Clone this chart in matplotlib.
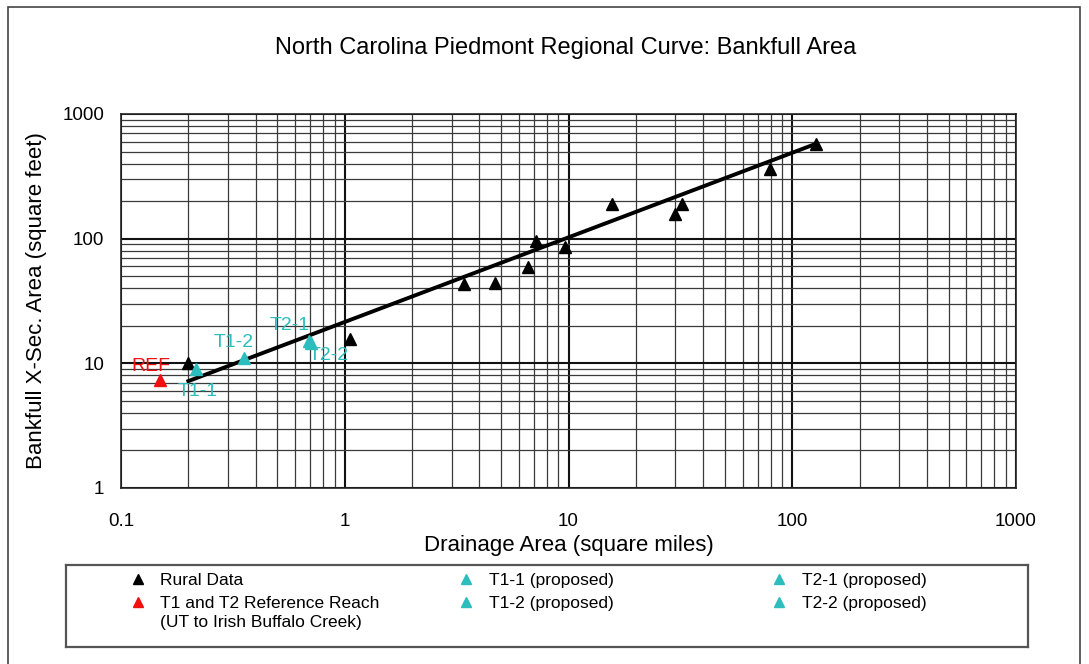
import matplotlib
matplotlib.use("Agg")
import matplotlib.pyplot as plt
from matplotlib.patches import Rectangle
from matplotlib.ticker import LogLocator, FixedLocator, FixedFormatter, NullFormatter

plt.rcParams['font.family'] = ['Liberation Sans', 'DejaVu Sans']

# ---- data ----
rural_x = [0.2, 1.06, 3.42, 4.71, 6.56, 7.19, 9.6, 15.6, 29.8, 32.0, 79.3, 128.0]
rural_y = [10.0, 15.6, 43.6, 44.5, 59.7, 96.4, 86.3, 190.0, 158.0, 190.0, 363.0, 575.0]

ref_x = [0.149]
ref_y = [7.3]

proposed_names = ["T1-1", "T1-2", "T2-1", "T2-2"]
proposed_x = [0.217, 0.355, 0.69, 0.71]
proposed_y = [8.95, 11.0, 15.2, 14.6]

curve_x = [0.2, 127.0]
curve_y = [7.2, 575.0]

x_ticks = [0.1, 1, 10, 100, 1000]
x_tick_labels = ["0.1", "1", "10", "100", "1000"]
y_ticks = [1, 10, 100, 1000]
y_tick_labels = ["1", "10", "100", "1000"]

legend_labels = ["Rural Data", "T1 and T2 Reference Reach\n(UT to Irish Buffalo Creek)",
                 "T1-1 (proposed)", "T1-2 (proposed)", "T2-1 (proposed)", "T2-2 (proposed)"]

CYAN = "#2DBDBD"
RED = "#F01010"

W, H = 1089, 664
fig = plt.figure(figsize=(W / 100, H / 100), dpi=100)

def fx(px):
    return px / W

def fy(py):
    return 1 - py / H

# outer frame
fig.patches.append(Rectangle((fx(8), fy(700)), fx(1080) - fx(8), fy(7) - fy(700),
                             transform=fig.transFigure, fill=False, ec="#444444", lw=1.2))

ax = fig.add_axes([fx(121), fy(488), fx(1016) - fx(121), fy(114) - fy(488)])
ax.set_xscale("log")
ax.set_yscale("log")
ax.set_xlim(0.1, 1000)
ax.set_ylim(1, 1000)

ax.xaxis.set_major_locator(FixedLocator(x_ticks))
ax.xaxis.set_major_formatter(FixedFormatter(x_tick_labels))
ax.yaxis.set_major_locator(FixedLocator(y_ticks))
ax.yaxis.set_major_formatter(FixedFormatter(y_tick_labels))
ax.xaxis.set_minor_locator(LogLocator(base=10, subs=range(2, 10), numticks=20))
ax.yaxis.set_minor_locator(LogLocator(base=10, subs=range(2, 10), numticks=20))
ax.xaxis.set_minor_formatter(NullFormatter())
ax.yaxis.set_minor_formatter(NullFormatter())

ax.grid(which="major", color="#111111", lw=1.5)
ax.grid(which="minor", color="#3a3a3a", lw=0.9)
ax.set_axisbelow(True)
ax.tick_params(which="both", length=0)
ax.tick_params(axis="x", pad=18, labelsize=13.5)
ax.tick_params(axis="y", pad=12, labelsize=13.5)
for s in ax.spines.values():
    s.set_color("#222222")
    s.set_linewidth(1.2)

ax.plot(curve_x, curve_y, color="black", lw=2.8, zorder=3)
ax.plot(rural_x, rural_y, ls="none", marker="^", ms=9, color="black", zorder=4)
ax.plot(ref_x, ref_y, ls="none", marker="^", ms=9, color=RED, zorder=4)
ax.plot(proposed_x, proposed_y, ls="none", marker="^", ms=9, color=CYAN, zorder=4)

# point labels
ax.annotate("REF", (ref_x[0], ref_y[0]), xytext=(-9, 14), textcoords="offset pixels",
            color=RED, fontsize=14, ha="center", va="center")
offsets = [(1, -22), (-10, 16), (-19, 15), (17, -13)]
for name, x, y, off in zip(proposed_names, proposed_x, proposed_y, offsets):
    ax.annotate(name, (x, y), xytext=off, textcoords="offset pixels",
                color=CYAN, fontsize=14, ha="center", va="center")

ax.set_xlabel("Drainage Area (square miles)", fontsize=16)
ax.set_ylabel("Bankfull X-Sec. Area (square feet)", fontsize=16)
ax.xaxis.set_label_coords(0.5, -0.125)
ax.yaxis.set_label_coords(-0.083, 0.5)

fig.text(fx(566), fy(48), "North Carolina Piedmont Regional Curve: Bankfull Area",
         fontsize=17, ha="center", va="center")

# legend box
lax = fig.add_axes([fx(66), fy(647), fx(1028) - fx(66), fy(565) - fy(647)])
lax.set_xlim(0, 1)
lax.set_ylim(0, 1)
lax.set_xticks([])
lax.set_yticks([])
for s in lax.spines.values():
    s.set_color("#555555")
    s.set_linewidth(1.6)

leg_colors = ["black", RED, CYAN, CYAN, CYAN, CYAN]
leg_mx = [0.075, 0.075, 0.416, 0.416, 0.741, 0.741]
leg_tx = [0.098, 0.098, 0.44, 0.44, 0.765, 0.765]
leg_my = [0.83, 0.55, 0.83, 0.55, 0.83, 0.55]
leg_ty = [0.76, 0.48, 0.76, 0.48, 0.76, 0.48]
for lab, c, mx, tx, my, ty in zip(legend_labels, leg_colors, leg_mx, leg_tx, leg_my, leg_ty):
    lax.plot([mx], [my], ls="none", marker="^", ms=6.5, color=c)
    lines = lab.split("\n")
    for i, line in enumerate(lines):
        lax.text(tx, ty - i * 0.235, line, fontsize=12.5, ha="left", va="baseline")

fig.savefig("out.png", dpi=100)
